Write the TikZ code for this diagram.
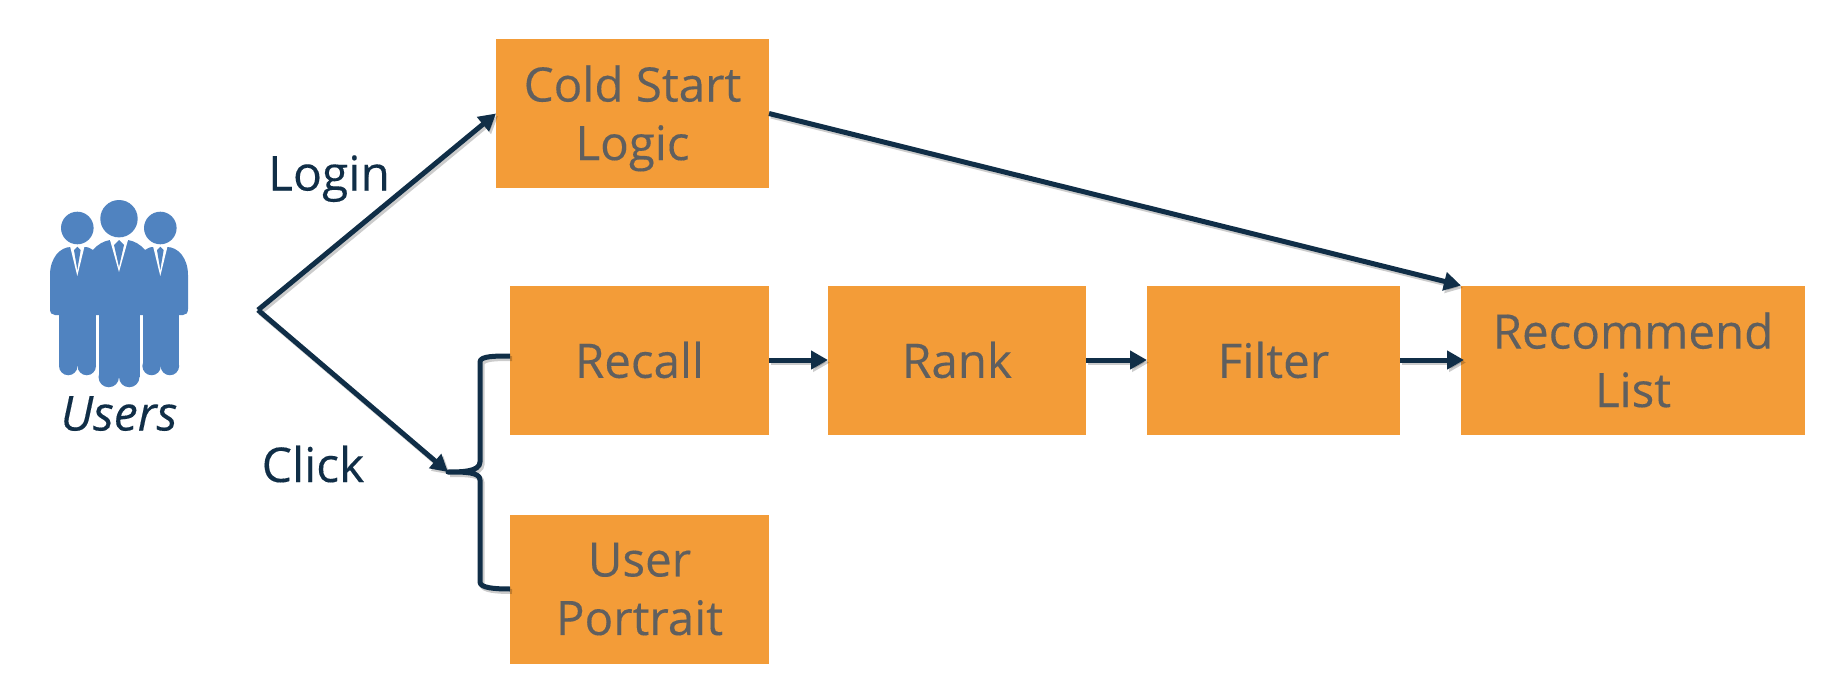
\documentclass[tikz,border=0pt]{standalone}
\usepackage{fontspec}
\setmainfont{Open Sans}[FakeBold=0.25]
\usetikzlibrary{arrows.meta}
\definecolor{boxorange}{HTML}{F39C38}
\definecolor{boxtext}{HTML}{5F5F5F}
\definecolor{linenavy}{HTML}{102E47}
\definecolor{iconblue}{HTML}{5083C0}
\tikzset{
  stage/.style={fill=boxorange, text=boxtext, inner sep=0pt, outer sep=0pt, align=center,
    font=\fontsize{47.5}{58.5}\selectfont},
  tag/.style={text=linenavy, inner sep=0pt, outer sep=0pt, anchor=base,
    font=\fontsize{48}{58.5}\selectfont},
  link/.style={line width=5pt, draw=linenavy, line join=round,
    preaction={draw=black, line width=5pt, opacity=0.2, transform canvas={xshift=2pt, yshift=-2.5pt}}},
  tip/.style={-{Triangle[length=17pt, width=18pt]}},
}

\begin{document}
\begin{tikzpicture}[x=1pt, y=-1pt]
  \useasboundingbox (0,0) rectangle (1832,698);

  % Boxes
  \node [stage, minimum width=273pt, minimum height=149pt] (cold) at (632.5, 113.5) {\rule{0pt}{46pt}Cold Start\\Logic};
  \node [stage, minimum width=259pt, minimum height=149pt] (recall) at (639.5, 360) {Recall};
  \node [stage, minimum width=259pt, minimum height=149pt] (portrait) at (639.5, 589) {User\\Portrait};
  \node [stage, minimum width=258pt, minimum height=149pt] (rank) at (957, 360) {Rank};
  \node [stage, minimum width=253pt, minimum height=149pt] (filter) at (1273.5, 360) {Filter};
  \node [stage, minimum width=344pt, minimum height=149pt] (recommend) at (1633, 360) {Recommend\\List};

  % Labels
  \node [tag] (login) at (329, 190.5) {Login};
  \node [tag] (click) at (313, 482) {Click};
  \node [tag, font=\fontsize{48}{58.5}\selectfont\itshape] (users) at (119, 430.5) {Users};

  % Free ends
  \coordinate (fork) at (258, 310);
  \coordinate (brace) at (448, 472);

  % Connectors
  \draw [link, tip] (fork) -- (cold.west);
  \draw [link, tip] (fork) -- (brace);
  \draw [link, tip] (cold.east) -- (recommend.north west);
  \draw [link, tip] (recall.east) -- (rank.west);
  \draw [link, tip] (rank.east) -- (filter.west);
  \draw [link, tip, shorten >=-3pt] (filter.east) -- (recommend.west);
  \draw [link] ([yshift=4pt]recall.west) .. controls (495, 356) and (480, 356) .. (480, 362) -- (480, 462)
    .. controls (480, 472) and (460, 472) .. (brace) .. controls (465, 472) and (480, 472) .. (480, 480)
    -- (480, 582) .. controls (480, 588) and (495, 589) .. (portrait.west);

  % Users icon
  \fill [iconblue] (119, 218.7) circle (18.7);
  \fill [iconblue] (77.3, 228) circle (16.3);
  \fill [iconblue] (160.3, 228) circle (16.3);
  \fill [iconblue] (50, 275) .. controls (50, 258) and (60, 247) .. (71, 247) -- (85, 247)
    .. controls (89, 247) and (91, 249) .. (93, 250) .. controls (98, 244) and (104, 241) .. (110, 240)
    -- (128, 240) .. controls (134, 241) and (140, 244) .. (145, 250) .. controls (147, 249) and (149, 247) .. (153, 247)
    -- (167, 247) .. controls (178, 247) and (188, 258) .. (188, 275) -- (188, 309)
    .. controls (188, 313) and (186, 315) .. (183, 315) -- (55, 315) .. controls (52, 315) and (50, 313) .. (50, 309) -- cycle;
  % legs
  \fill [iconblue] (59, 310) rectangle (96, 366);
  \fill [iconblue] (68.25, 366) circle (9.25);
  \fill [iconblue] (86.75, 366) circle (9.25);
  \fill [iconblue] (98.5, 310) rectangle (139.5, 377);
  \fill [iconblue] (108.75, 377) circle (10.25);
  \fill [iconblue] (129.25, 377) circle (10.25);
  \fill [iconblue] (142.5, 310) rectangle (179, 366);
  \fill [iconblue] (151.6, 366) circle (9.25);
  \fill [iconblue] (169.9, 366) circle (9.25);
  % ties
  \fill [white] (70, 246) -- (77.3, 276) -- (84.6, 246) -- cycle;
  \fill [iconblue] (77.3, 246.7) -- (80.7, 250) -- (77.3, 270) -- (74, 250) -- cycle;
  \fill [white] (153, 246) -- (160.3, 276) -- (167.6, 246) -- cycle;
  \fill [iconblue] (160.3, 246.7) -- (163.7, 250) -- (160.3, 270) -- (157, 250) -- cycle;
  \fill [white] (110, 240) -- (119, 272) -- (128, 240) -- cycle;
  \fill [iconblue] (119, 240) -- (124, 245) -- (119, 267) -- (114, 245) -- cycle;
\end{tikzpicture}
\end{document}
